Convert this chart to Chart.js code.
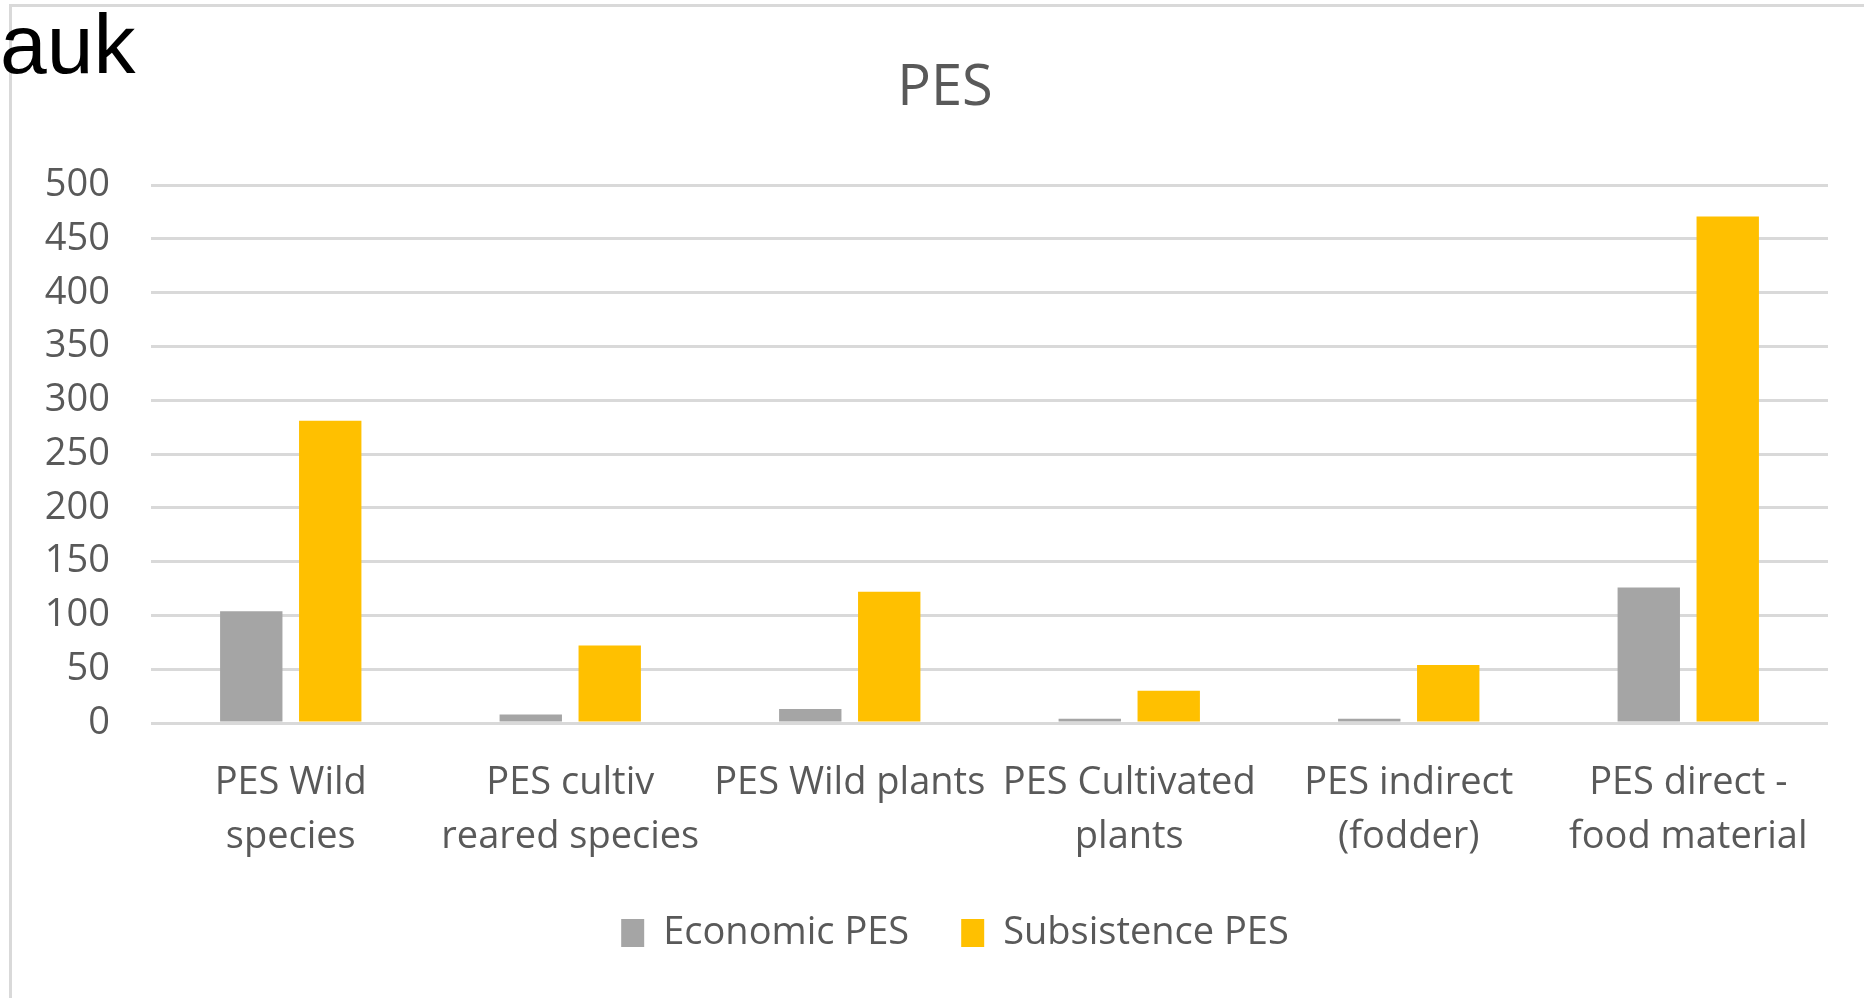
<!DOCTYPE html>
<html>
<head>
<meta charset="utf-8">
<title>PES</title>
<script src="https://cdn.jsdelivr.net/npm/chart.js@4.4.1/dist/chart.umd.min.js"></script>
<style>
  html, body { margin: 0; padding: 0; background: #fff; }
  body { width: 1864px; height: 998px; position: relative; overflow: hidden; }
  #frame {
    position: absolute; left: 9px; top: 4px; width: 1900px; height: 1100px;
    border-left: 3px solid #d9d9d9; border-top: 3px solid #d9d9d9;
  }
  #wrap { position: absolute; left: 0; top: 0; width: 1864px; height: 998px; }
  #tag {
    position: absolute; left: 0; top: 2px;
    font-family: "Liberation Sans", Arial, sans-serif;
    font-size: 84px; line-height: 84px; color: #000;
  }
</style>
</head>
<body>
<div id="frame"></div>
<div id="wrap"><canvas id="pesChart"></canvas></div>
<div id="tag">auk</div>
<script>
// categories (multi-line labels as in the original)
const categories = [
  ['PES Wild', 'species'],
  ['PES cultiv', 'reared species'],
  'PES Wild plants',
  ['PES Cultivated', 'plants'],
  ['PES indirect', '(fodder)'],
  ['PES direct -', 'food material']
];
const economicPES = [104, 8, 13, 4, 4, 126];
const subsistencePES = [281, 72, 122, 30, 54, 471];
const yTicks = { min: 0, max: 500, step: 50 };

const textGrey = '#595959';
const fontFam = "'Open Sans', 'Noto Sans', sans-serif";

const pes_data = {
  labels: categories,
  datasets: [
    {
      label: 'Economic PES',
      data: economicPES,
      backgroundColor: '#a5a5a5',
      borderWidth: 0
    },
    {
      label: 'Subsistence PES',
      data: subsistencePES,
      backgroundColor: '#ffc000',
      borderWidth: 0
    }
  ]
};

// nudge title and legend sideways (Excel centres them on the whole chart box)
const shiftBoxes = {
  id: 'shiftBoxes',
  afterLayout(chart) {
    chart.titleBlock.left += 17;
    chart.titleBlock.right += 17;
    chart.legend.left += 27;
    chart.legend.right += 27;
  }
};

const pes_config = {
  type: 'bar',
  data: pes_data,
  options: {
    responsive: false,
    animation: false,
    layout: { padding: { left: 28, right: 36, top: 0, bottom: 36 } },
    datasets: {
      bar: { categoryPercentage: 0.565, barPercentage: 0.79 }
    },
    scales: {
      x: {
        grid: { display: false },
        border: { display: false },
        ticks: {
          color: textGrey,
          padding: 26,
          maxRotation: 0,
          autoSkip: false,
          font: { family: fontFam, size: 38, lineHeight: 1.4 }
        },
        afterFit: (scale) => { scale.height = 139; }
      },
      y: {
        min: yTicks.min,
        max: yTicks.max,
        grid: { color: '#d9d9d9', lineWidth: 3, drawTicks: false },
        border: { display: false },
        ticks: {
          stepSize: yTicks.step,
          color: textGrey,
          padding: 41,
          font: { family: fontFam, size: 38 }
        },
        afterFit: (scale) => { scale.width = 123; }
      }
    },
    plugins: {
      title: {
        display: true,
        text: 'PES',
        color: textGrey,
        font: { family: fontFam, size: 56, weight: 'normal', lineHeight: 1.2 },
        padding: { top: 55.6, bottom: 62.4 }
      },
      legend: {
        position: 'bottom',
        labels: {
          color: textGrey,
          boxWidth: 23,
          boxHeight: 28,
          padding: 52,
          font: { family: fontFam, size: 38 }
        }
      },
      tooltip: { enabled: false }
    }
  },
  plugins: [shiftBoxes]
};

const canvas = document.getElementById('pesChart');
canvas.width = 1864;
canvas.height = 998;
const myPesChart = new Chart(canvas, pes_config);
</script>
</body>
</html>
